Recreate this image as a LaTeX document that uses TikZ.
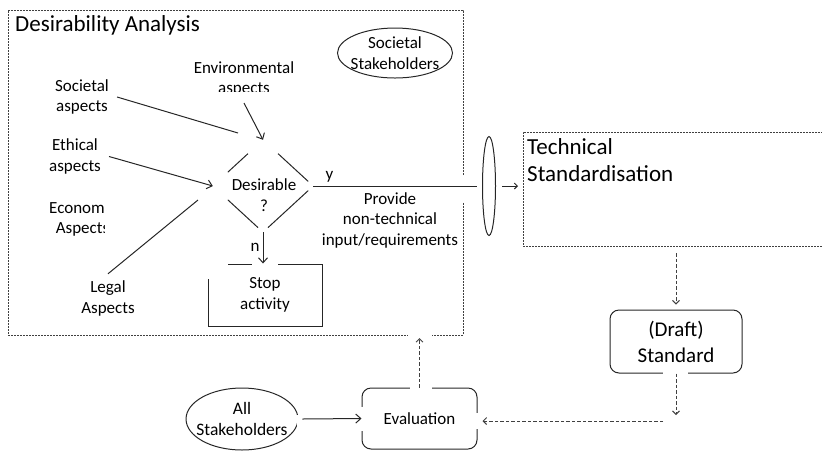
\documentclass[tikz,border=0pt]{standalone}
\usepackage{fontspec}
\setmainfont{Carlito}
\usepackage{tikz}
\usetikzlibrary{shapes.geometric, arrows.meta, calc}
\tikzset{
    txt/.style={align=center, inner sep=0pt, font=\fontsize{17pt}{20.5pt}\selectfont},
    heading/.style={align=left, inner sep=0pt, font=\fontsize{23pt}{27pt}\selectfont},
    frame/.style={draw=black!75, dash pattern=on 2pt off 1pt, line width=0.8pt, inner sep=0pt, outer sep=0pt},
    roundbox/.style={draw=black!85, rounded corners=9pt, line width=1pt},
    stakeholder/.style={ellipse, draw=black!85, line width=1pt, inner sep=-6pt},
    link/.style={draw=black!85, line width=1pt},
    arr/.style={link, -{Straight Barb[length=5pt, width=9pt]}},
    dasharr/.style={draw=black!75, line width=0.9pt, dash pattern=on 3.5pt off 2pt, -{Straight Barb[length=3.5pt, width=7pt]}},
    wipe/.style={draw=white, line width=3.5pt}
}

\begin{document}
\begin{tikzpicture}[x=1pt, y=-1pt]
    \useasboundingbox (0,0) rectangle (822,451);

    % desirability analysis
    \node[frame, minimum width=455pt, minimum height=325pt] (dabox) at (235.5,172.5) {};
    \node[heading, anchor=base west] (datitle) at (15,31) {Desirability Analysis};
    \node[stakeholder, txt, inner sep=-6pt, minimum width=115pt, minimum height=50pt] (socstake) at (395,53) {Societal\\Stakeholders};

    % aspects
    \begin{scope}
        \clip (150,40) rectangle (340,91);
        \node[txt] (envasp) at (244,79) {Environmental\\aspects};
    \end{scope}
    \node[txt] (socasp) at (82,97) {Societal\\aspects};
    \node[txt] (ethasp) at (75,156.5) {Ethical\\aspects};
    \begin{scope}
        \clip (0,190) rectangle (104,245);
        \node[txt] (ecoasp) at (82.5,219) {Economic\\Aspects};
    \end{scope}
    \node[txt] (legasp) at (108,298.5) {Legal\\Aspects};

    % decision
    \node[diamond, minimum width=100pt, minimum height=92pt, inner sep=0pt] (des) at (263,186) {};
    \node[txt] (desq) at (264,195) {Desirable\\?};
    \draw[link] ($(des.west)!.3!(des.north)$) -- ($(des.west)!.7!(des.north)$);
    \draw[link] ($(des.north)!.3!(des.east)$) -- ($(des.north)!.9!(des.east)$);
    \draw[link] ($(des.east)!.1!(des.south)$) -- ($(des.east)!.9!(des.south)$);
    \draw[link] ($(des.south)!.1!(des.west)$) -- ($(des.south)!.7!(des.west)$);

    \node[draw=black!85, line width=1pt, txt, minimum width=114pt, minimum height=62pt] (stop) at (265,295) {Stop\\activity};
    \node[txt] (provide) at (390,220) {Provide\\non-technical\\input/requirements};

    % technical standardisation
    \node[ellipse, draw=black!85, line width=1pt, minimum width=13pt, minimum height=99pt, inner sep=0pt] (gate) at (489,186) {};
    \node[frame, minimum width=300pt, minimum height=114pt] (techbox) at (673,189) {};
    \node[heading, anchor=north west] (techtitle) at (527,138) {Technical\\Standardisation};
    \node[roundbox, align=center, inner sep=0pt, font=\fontsize{21pt}{26pt}\selectfont, minimum width=132pt, minimum height=63pt] (draft) at (676,341.5) {(Draft)\\Standard};

    % evaluation
    \node[roundbox, txt, minimum width=115pt, minimum height=61pt] (eval) at (419.5,418.5) {Evaluation};
    \node[stakeholder, txt, inner sep=-6pt, font=\fontsize{17.5pt}{20.5pt}\selectfont, minimum width=110pt, minimum height=62pt] (allst) at (242,419) {All\\Stakeholders};

    % gaps where the connectors meet the outlines
    \draw[wipe] ([yshift=11pt]dabox.east |- des.east) -- ([yshift=-16pt]dabox.east |- des.east);
    \draw[wipe] ([xshift=-12pt]eval.north |- dabox.south) -- ([xshift=12pt]eval.north |- dabox.south);
    \draw[wipe] ([xshift=-2pt]stop.north west) -- ([xshift=20pt]stop.north west);
    \draw[wipe] ([yshift=2pt]stop.north west) -- ([yshift=-15pt]stop.north west);
    \draw[wipe] ([xshift=-13pt]stop.north) -- ([xshift=13pt]stop.north);
    \draw[wipe] ([xshift=-13pt]draft.south) -- ([xshift=12pt]draft.south);
    \draw[wipe] ([xshift=-10pt]eval.north) -- ([xshift=12pt]eval.north);
    \draw[wipe] ([yshift=12pt]eval.west) -- ([yshift=-12pt]eval.west);
    \draw[wipe] ([yshift=6pt]eval.east) -- ([yshift=-10pt]eval.east);
    \draw[wipe] ([yshift=4pt]allst.east) -- ([yshift=-8pt]allst.east);

    % inputs
    \coordinate (socend) at (238,133);
    \coordinate (envstart) at (244,103);
    \coordinate (legtip) at (198,200);
    \draw[link] ([xshift=8pt]socasp.east) -- (socend);
    \draw[arr] (envstart) -- (des.north);
    \draw[arr] ([xshift=8pt]ethasp.east) -- (des.west);
    \draw[link] ([yshift=7pt]legasp.north) -- (legtip);

    % outcomes
    \draw[arr] (des.south) -- (des.south |- stop.north) node[txt, midway, left=3pt] {n};
    \draw[link] (des.east) -- ([xshift=-5pt]gate.west) node[txt, pos=0.1, above=3pt] {y};
    \draw[link, -{Straight Barb[length=3pt, width=6pt]}] ([xshift=6pt]gate.east) -- ([xshift=-5pt]techbox.west |- gate.east);

    % standardisation loop
    \coordinate (elbow) at (676,421);
    \draw[dasharr] ([yshift=-7pt]techbox.south -| draft.north) -- ([yshift=5pt]draft.north);
    \draw[dasharr] (draft.south) -- ([yshift=6pt]elbow);
    \draw[dasharr] ([xshift=-13pt]elbow) -- ([xshift=5pt]eval.east |- elbow);
    \draw[dasharr] (eval.north) -- ([yshift=-3pt]eval.north |- dabox.south);
    \draw[arr] ([xshift=4pt]allst.east) -- (eval.west);
\end{tikzpicture}
\end{document}
